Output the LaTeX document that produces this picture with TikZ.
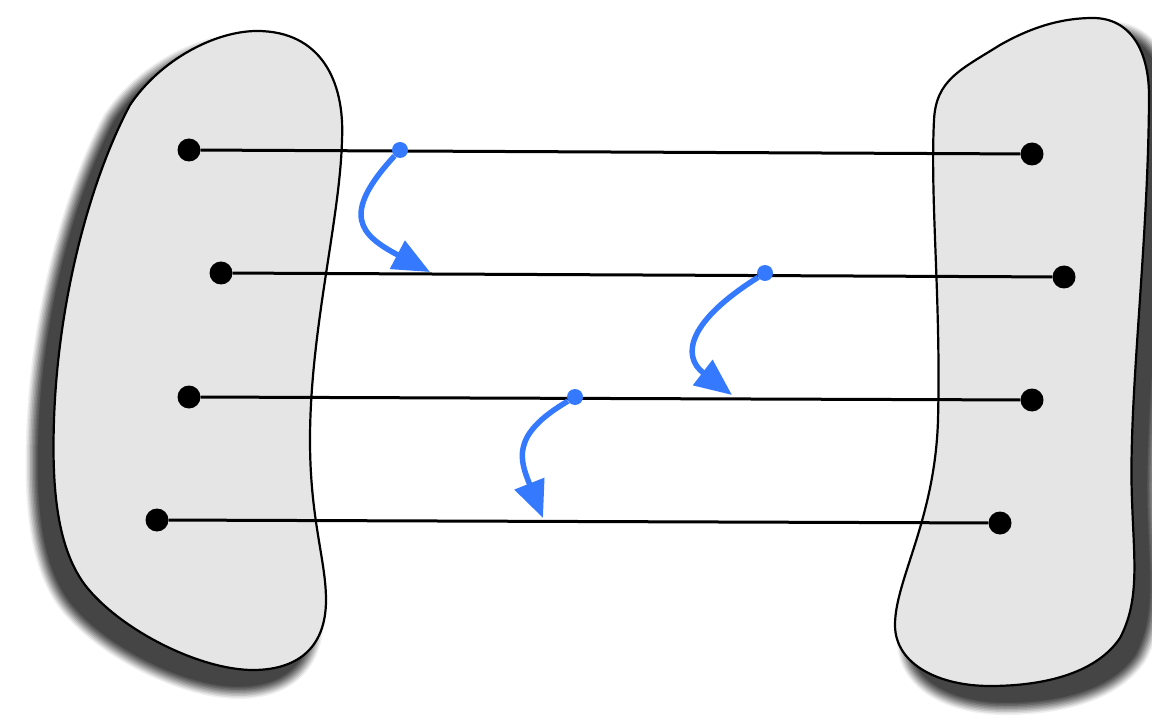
\documentclass[tikz,border=0pt]{standalone}
\usetikzlibrary{arrows.meta}
\definecolor{blobgray}{RGB}{229,229,229}
\definecolor{flowblue}{RGB}{52,121,255}
\def\leftblob{(257,31) .. controls (320,31) and (345,80) .. (342,140)
  .. controls (340,220) and (310,330) .. (310,440)
  .. controls (310,520) and (326,560) .. (326,600)
  .. controls (326,650) and (295,670) .. (253,670)
  .. controls (200,670) and (120,630) .. (85,585)
  .. controls (55,545) and (52,480) .. (54,420)
  .. controls (58,300) and (90,180) .. (130,105)
  .. controls (160,60) and (215,31) .. (257,31) -- cycle}
\def\rightblob{(1093,18) .. controls (1130,18) and (1150,50) .. (1149,100)
  .. controls (1148,250) and (1128,400) .. (1132,500)
  .. controls (1134,560) and (1140,600) .. (1120,638)
  .. controls (1095,675) and (1040,686) .. (990,686)
  .. controls (940,686) and (895,665) .. (895,625)
  .. controls (895,580) and (935,520) .. (938,420)
  .. controls (941,300) and (930,200) .. (934,120)
  .. controls (936,80) and (960,70) .. (1000,45)
  .. controls (1030,28) and (1060,18) .. (1093,18) -- cycle}
\begin{document}
\begin{tikzpicture}[x=1pt,y=-1pt,
  blob/.style={fill=blobgray, draw=black, line width=2.2pt},
  enddot/.style={circle, fill=black, inner sep=0pt, minimum size=23pt},
  basedot/.style={circle, fill=flowblue, inner sep=0pt, minimum size=16pt},
  fiber/.style={line width=3pt},
  flow/.style={draw=flowblue, line width=5.5pt, -{Triangle[length=37pt,width=31pt,fill=flowblue]}}]
\useasboundingbox (0,0) rectangle (1152,722);

% soft drop shadows: nested grey outlines, widest and palest first
\foreach \w/\c in {26pt/6, 23pt/14, 20pt/23, 17pt/32, 14pt/41, 11pt/50,
                   8pt/58, 5pt/65, 2pt/71, 0.5pt/73} {
  \path[fill=black!\c, draw=black!\c, line width=\w, line join=round]
    [shift={(-15,16)}] \leftblob;
  \path[fill=black!\c, draw=black!\c, line width=\w, line join=round]
    [shift={(15,16)}] \rightblob;
}

% the two regions
\path[blob] \leftblob;
\path[blob] \rightblob;

% end points of the fibres
\node[enddot] (L1) at (189,150) {};
\node[enddot] (L2) at (221,273) {};
\node[enddot] (L3) at (189,397) {};
\node[enddot] (L4) at (157,520) {};
\node[enddot] (R1) at (1032,154) {};
\node[enddot] (R2) at (1064,277) {};
\node[enddot] (R3) at (1032,400) {};
\node[enddot] (R4) at (1000,523) {};

\draw[fiber] (L1) -- (R1);
\draw[fiber] (L2) -- (R2);
\draw[fiber] (L3) -- (R3);
\draw[fiber] (L4) -- (R4);

% flow from one fibre to the next
\node[basedot] (b1) at (400,150) {};
\node[basedot] (b2) at (765,273) {};
\node[basedot] (b3) at (575,397) {};
\coordinate (t1) at (430,272);
\coordinate (t2) at (732,395);
\coordinate (t3) at (543,518);

\draw[flow] (b1) .. controls (340,215) and (360,235) .. (t1);
\draw[flow] (b2) .. controls (690,320) and (680,355) .. (t2);
\draw[flow] (b3) .. controls (510,435) and (520,460) .. (t3);
\end{tikzpicture}
\end{document}
